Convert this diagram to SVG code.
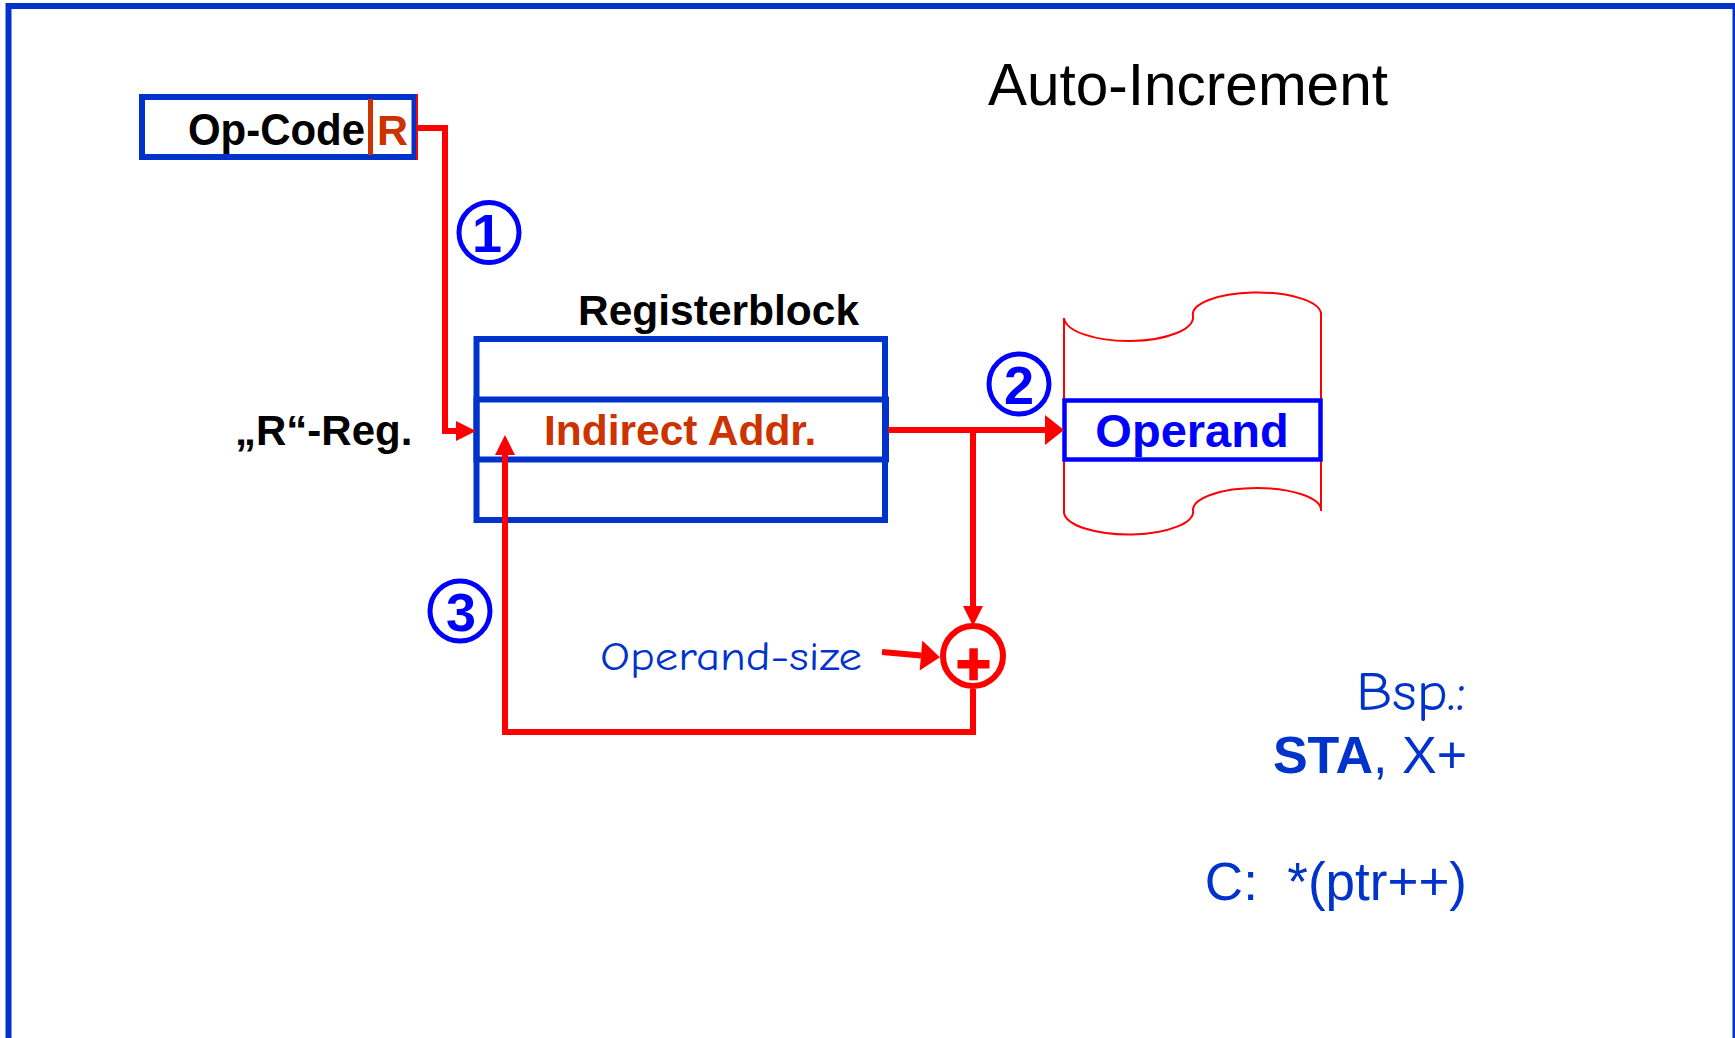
<svg xmlns="http://www.w3.org/2000/svg" width="1735" height="1038" viewBox="0 0 1735 1038">
  <style>
    .sans { font-family: "Liberation Sans", Arial, sans-serif; }
    .bold { font-weight: bold; }
    .comic { font-family: "Comic Sans MS", "Comic Neue", "Noto Sans", sans-serif; }
    .box { fill: none; stroke: #0033CC; stroke-width: 6; }
    .wire { fill: none; stroke: #FF0000; stroke-width: 6; stroke-linejoin: miter; }
    .badge { fill: none; stroke: #0000FF; stroke-width: 5; }
    .badge-num { font-family: "Liberation Sans", Arial, sans-serif; font-weight: bold; font-size: 54px; fill: #0000FF; text-anchor: middle; }
    .blue { fill: #0033CC; }
  </style>
  <defs>
    <marker id="arrow-s" markerUnits="userSpaceOnUse" markerWidth="20" markerHeight="20" refX="0" refY="8.5" orient="auto" viewBox="0 0 17 17">
      <path d="M0,0 L17,8.5 L0,17 Z" fill="#FF0000"/>
    </marker>
    <marker id="arrow-l" markerUnits="userSpaceOnUse" markerWidth="20" markerHeight="30" refX="0" refY="15" orient="auto" viewBox="0 0 19 30">
      <path d="M0,0 L19,15 L0,30 Z" fill="#FF0000"/>
    </marker>
  </defs>

  <rect width="1735" height="1038" fill="#FFFFFF"/>

  <!-- slide frame -->
  <rect x="8.5" y="6" width="1727" height="1100" fill="none" stroke="#0033CC" stroke-width="6"/>

  <!-- title -->
  <text class="sans" x="988" y="105" font-size="58.5" fill="#000000">Auto-Increment</text>

  <!-- instruction word: op-code + register field -->
  <g id="opcode">
    <rect x="142" y="97" width="272.5" height="60" fill="#FFFFFF" stroke="#0033CC" stroke-width="6"/>
    <line x1="370.5" y1="99" x2="370.5" y2="155" stroke="#CC3300" stroke-width="5"/>
    <line x1="417" y1="94" x2="417" y2="160" stroke="#FF0000" stroke-width="2"/>
    <text class="sans bold" x="188" y="145" font-size="44" textLength="177" lengthAdjust="spacingAndGlyphs" fill="#000000">Op-Code</text>
    <text class="sans bold" x="377" y="145" font-size="43" fill="#CC3300">R</text>
  </g>

  <!-- register file -->
  <g id="registerblock">
    <text class="sans bold" x="578" y="325" font-size="42.5" fill="#000000">Registerblock</text>
    <rect class="box" x="476.5" y="339" width="408.5" height="181"/>
    <rect x="476.5" y="399.5" width="409.5" height="60" fill="none" stroke="#0033CC" stroke-width="6"/>
    <text class="sans bold" x="544" y="445" font-size="42.5" fill="#CC3300">Indirect Addr.</text>
  </g>

  <g id="r-reg-label">
    <text class="sans bold" x="235" y="445" font-size="42" fill="#000000">„R“-Reg.</text>
  </g>

  <!-- memory with the operand cell -->
  <g id="memory">
    <path d="M1064,318 A64.5,24 0 0 0 1193,316 A64,22 0 0 1 1321,313 V511 M1064,318 V513 A64.5,23 0 0 0 1193,510 A64,22 0 0 1 1321,510" fill="none" stroke="#FF0000" stroke-width="2"/>
    <rect x="1064.5" y="400.5" width="256" height="59" fill="#FFFFFF" stroke="#0000FF" stroke-width="4.5"/>
    <text class="sans bold" x="1192" y="447" font-size="47" fill="#0000FF" text-anchor="middle">Operand</text>
  </g>

  <!-- adder -->
  <g id="adder">
    <circle cx="973" cy="656" r="30" fill="#FFFFFF" stroke="#FF0000" stroke-width="6"/>
    <rect x="957.5" y="660" width="32" height="8.5" fill="#FF0000"/>
    <rect x="969.3" y="648.3" width="8.5" height="32" fill="#FF0000"/>
  </g>

  <g id="operand-size">
    <text class="comic" x="862" y="670" font-size="40" fill="#0033CC" text-anchor="end" textLength="262" lengthAdjust="spacingAndGlyphs">Operand-size</text>
  </g>

  <!-- step numbers -->
  <g id="step1">
    <circle class="badge" cx="489" cy="232.5" r="30"/>
    <text class="badge-num" x="487" y="252">1</text>
  </g>
  <g id="step2">
    <circle class="badge" cx="1019" cy="384" r="30"/>
    <text class="badge-num" x="1019" y="404">2</text>
  </g>
  <g id="step3">
    <circle class="badge" cx="460" cy="611" r="30"/>
    <text class="badge-num" x="461" y="631">3</text>
  </g>

  <!-- example -->
  <g id="example">
    <text class="comic blue" x="1466" y="710" font-size="54" text-anchor="end" textLength="110" lengthAdjust="spacingAndGlyphs">Bsp.:</text>
    <text class="sans blue" x="1467" y="773" font-size="52" text-anchor="end"><tspan font-weight="bold">STA</tspan>, X+</text>
    <text class="sans blue" x="1467" y="900" font-size="53" text-anchor="end" style="white-space:pre">C:  *(ptr++)</text>
  </g>

  <!-- data paths -->
  <g id="connectors">
    <path class="wire" d="M417,128 H445 V431 H456" marker-end="url(#arrow-s)"/>
    <path class="wire" d="M888,430 H1045" marker-end="url(#arrow-l)"/>
    <path class="wire" d="M973,430 V606" marker-end="url(#arrow-s)"/>
    <path class="wire" d="M973,689 V732 H505 V455" marker-end="url(#arrow-s)"/>
    <path class="wire" d="M882,652 L921,655.5" marker-end="url(#arrow-l)"/>
  </g>
</svg>
